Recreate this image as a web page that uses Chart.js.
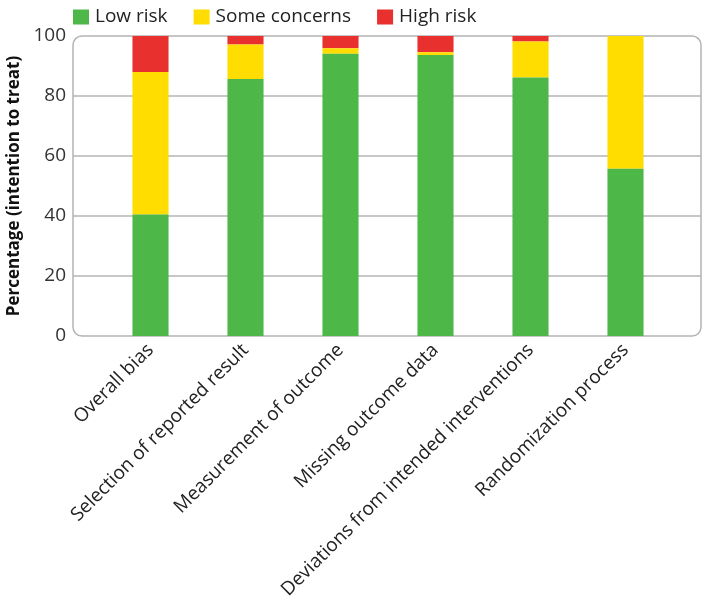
<!DOCTYPE html>
<html>
<head>
<meta charset="utf-8">
<script src="https://cdn.jsdelivr.net/npm/chart.js@4.4.0/dist/chart.umd.min.js"></script>
<style>
  html, body { margin: 0; padding: 0; background: #fff; }
</style>
</head>
<body>
<canvas id="riskChart" width="704" height="604"></canvas>
<script>
const domains = ['Overall bias', 'Selection of reported result', 'Measurement of outcome', 'Missing outcome data', 'Deviations from intended interventions', 'Randomization process'];
const lowRisk = [40.5, 85.7, 94.1, 93.7, 86.2, 55.8];
const someConcerns = [47.5, 11.5, 1.8, 0.9, 12.0, 44.2];
const highRisk = [12.0, 2.8, 4.1, 5.4, 1.8, 0];
const yTicks = [0, 20, 40, 60, 80, 100];

const family = "'Open Sans', sans-serif";

// rounded frame and gridlines, wider than the bar area
const framePlugin = {
    id: 'frame',
    beforeDatasetsDraw(chart) {
        const { ctx, chartArea, scales } = chart;
        const left = chartArea.left - 30;
        const right = chartArea.right + 28;
        ctx.save();
        ctx.strokeStyle = '#b4b4b4';
        ctx.lineWidth = 1.5;
        for (const t of yTicks) {
            if (t === 0 || t === 100) continue;
            const y = scales.y.getPixelForValue(t);
            ctx.beginPath();
            ctx.moveTo(left, y);
            ctx.lineTo(right, y);
            ctx.stroke();
        }
        ctx.beginPath();
        ctx.roundRect(left, chartArea.top, right - left, chartArea.bottom - chartArea.top, 9);
        ctx.stroke();
        ctx.restore();
    }
};

// legend along the top, starting at the frame's left edge
const legendPlugin = {
    id: 'topLegend',
    afterDraw(chart) {
        const { ctx, chartArea } = chart;
        let x = chartArea.left - 30;
        const y = 17;
        ctx.save();
        ctx.font = '19px ' + family;
        ctx.textBaseline = 'middle';
        for (const ds of chart.data.datasets) {
            ctx.fillStyle = ds.backgroundColor;
            ctx.fillRect(x, y - 7.5, 16, 15);
            x += 22;
            ctx.fillStyle = '#222';
            ctx.fillText(ds.label, x, y);
            x += ctx.measureText(ds.label).width + 26;
        }
        ctx.restore();
    }
};

new Chart(document.getElementById('riskChart'), {
    type: 'bar',
    data: {
        labels: domains,
        datasets: [
            { label: 'Low risk', data: lowRisk, backgroundColor: '#4db848' },
            { label: 'Some concerns', data: someConcerns, backgroundColor: '#ffdd00' },
            { label: 'High risk', data: highRisk, backgroundColor: '#e8302e' }
        ]
    },
    options: {
        responsive: false,
        animation: false,
        layout: { padding: { top: 36, right: 31, left: 4, bottom: 0 } },
        datasets: { bar: { barPercentage: 0.38, categoryPercentage: 1 } },
        plugins: { legend: { display: false }, tooltip: { enabled: false } },
        scales: {
            x: {
                stacked: true,
                grid: { display: false, drawTicks: false },
                border: { display: false },
                ticks: { minRotation: 45, maxRotation: 45, color: '#222', font: { family, size: 19 }, padding: 3 },
                // labels may hang left past the frame, as in the original
                afterFit: scale => { scale.paddingLeft = 0; }
            },
            y: {
                stacked: true,
                min: 0,
                max: 100,
                afterBuildTicks: axis => { axis.ticks = yTicks.map(v => ({ value: v })); },
                // the big tick padding should not push the plot down
                afterFit: scale => { scale.width = 99; scale.paddingTop = 10; scale.paddingBottom = 10; },
                grid: { display: false, drawTicks: false },
                border: { display: false },
                ticks: { padding: 37, color: '#333', font: { family, size: 19 } },
                title: { display: true, text: 'Percentage (intention to treat)', color: '#111', font: { family, size: 17, weight: 'bold' }, padding: 0 }
            }
        }
    },
    plugins: [framePlugin, legendPlugin]
});
</script>
</body>
</html>
